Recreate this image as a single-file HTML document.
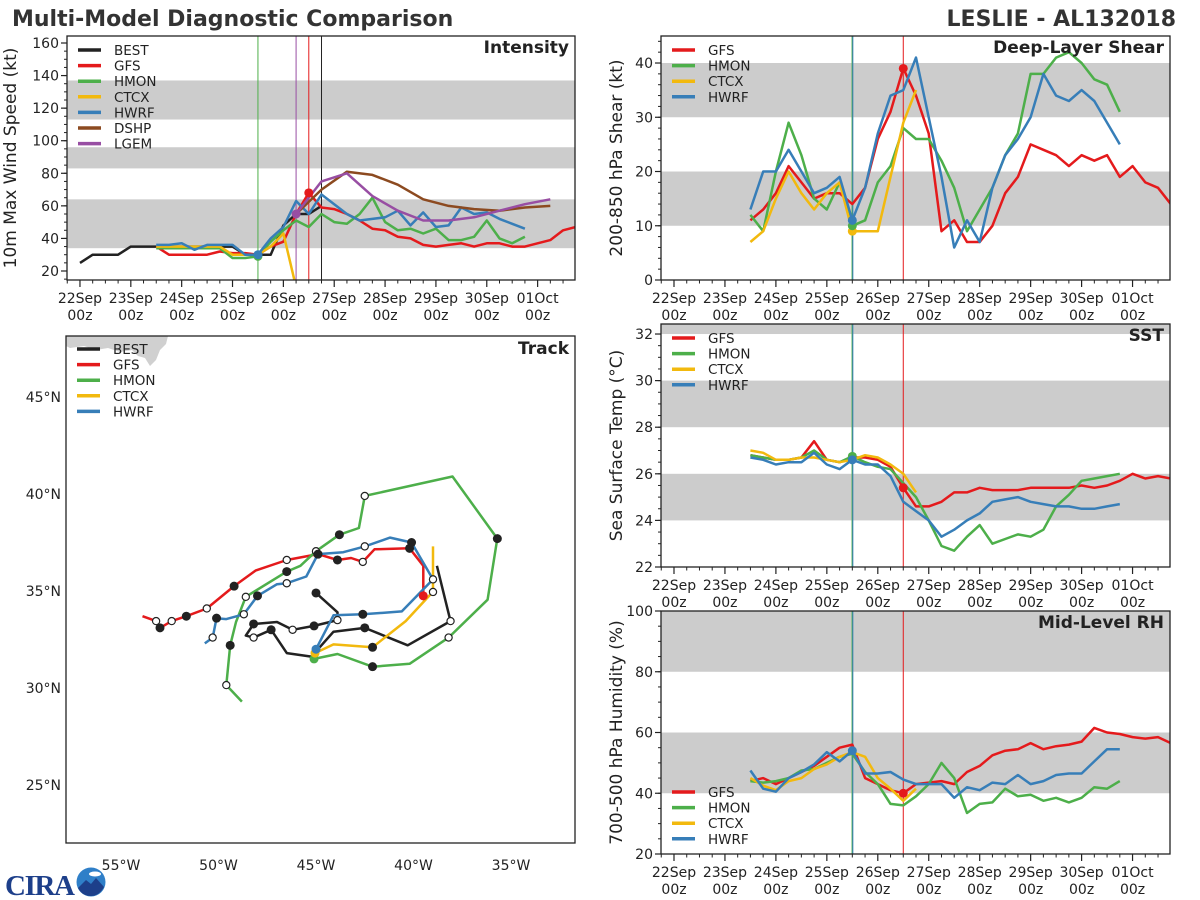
<!DOCTYPE html>
<html><head><meta charset="utf-8"><title>Multi-Model Diagnostic Comparison</title>
<style>
html,body{margin:0;padding:0;background:#fff;}
svg{display:block;font-family:"DejaVu Sans","Liberation Sans",sans-serif;}
</style></head>
<body>
<svg id="chart" width="1200" height="900" viewBox="0 0 1200 900" xmlns="http://www.w3.org/2000/svg">
<rect x="0" y="0" width="1200" height="900" fill="#fff"/>
<text x="12" y="26" font-size="22" font-weight="bold" fill="#333">Multi-Model Diagnostic Comparison</text>
<text x="1176" y="26" font-size="22" font-weight="bold" fill="#333" text-anchor="end">LESLIE - AL132018</text>
<g>
<text x="5" y="895" font-size="29" font-weight="bold" fill="#1d3f8a" font-family="Liberation Serif, serif" textLength="70">CIRA</text>
<circle cx="91" cy="882" r="14.5" fill="#2f7fc8"/>
<path d="M78 888 L86 880 L91 884 L96 878 L104 887 Q99 896 91 896 Q82 896 78 888Z" fill="#1d3f8a"/>
<ellipse cx="95" cy="874" rx="6" ry="2.5" fill="#fff"/>
</g>
</svg>
<script>
// ---------- shared axis data ----------
const dayLabels = ['22Sep','23Sep','24Sep','25Sep','26Sep','27Sep','28Sep','29Sep','30Sep','01Oct'];
// ---------- Intensity data (kt), 6-hourly, start in days from 22Sep00z ----------
const intBestStart = 0;
const intBest = [25,30,30,30,35,35,35,35,35,35,35,35,35,30,30,30,48,55,55,60];
const intGfsStart = 1.5;
const intGfs = [35,30,30,30,30,32,31,31,30,35,38,55,68,59,58,55,51,46,45,41,40,36,35,36,37,35,37,37,35,35,37,39,45,47];
const intHmonStart = 1.5;
const intHmon = [34,34,34,34,34,34,28,28,29,38,45,51,47,55,50,49,55,65,50,45,46,43,46,39,39,41,51,40,37,41];
const intCtcxStart = 1.5;
const intCtcx = [35,35,35,35,35,35,30,30,30,35,43,10];
const intHwrfStart = 1.5;
const intHwrf = [36,36,37,33,36,36,36,30,30,40,47,63,55,67,61,55,51,52,53,57,48,56,47,48,59,55,56,52,49,46];
const intDshpStart = 4.25; // 12-hourly
const intDshp = [55,70,81,79,73,64,60,58,57,59,60];
const intLgemStart = 4.25; // 12-hourly
const intLgem = [55,75,80,66,57,51,51,53,57,61,64];
const intTicks = [20,40,60,80,100,120,140,160];
// ---------- Shear data (kt) ----------
const shrGfs = [11,13,16,21,18,15,16,16,14,17,26,31,39,34,27,9,11,7,7,10,16,19,25,24,23,21,23,22,23,19,21,18,17,14];
const shrHmon = [12,9,20,29,23,15,13,18,10,11,18,21,28,26,26,22,17,9,13,17,23,27,38,38,41,42,40,37,36,31];
const shrCtcx = [7,9,15,20,16,13,16,18,9,9,9,19,29,35];
const shrHwrf = [13,20,20,24,20,16,17,19,11,17,27,34,35,41,30,19,6,11,7,17,23,26,30,38,34,33,35,33,29,25];
const shrTicks = [0,10,20,30,40];
// ---------- SST data (deg C) ----------
const sstGfs = [26.8,26.7,26.6,26.6,26.7,27.4,26.6,26.5,26.7,26.7,26.6,26.3,25.4,24.6,24.6,24.8,25.2,25.2,25.4,25.3,25.3,25.3,25.4,25.4,25.4,25.4,25.5,25.4,25.5,25.7,26.0,25.8,25.9,25.8,26.3];
const sstHmon = [26.8,26.7,26.6,26.6,26.7,27.0,26.6,26.5,26.75,26.5,26.3,26.2,25.6,25.0,24.0,22.9,22.7,23.3,23.8,23.0,23.2,23.4,23.3,23.6,24.6,25.1,25.7,25.8,25.9,26.0];
const sstCtcx = [27.0,26.9,26.6,26.6,26.7,26.7,26.6,26.5,26.6,26.8,26.7,26.4,26.0,25.2];
const sstHwrf = [26.7,26.6,26.4,26.5,26.5,26.9,26.4,26.2,26.6,26.4,26.4,25.9,24.8,24.4,24.0,23.3,23.6,24.0,24.3,24.8,24.9,25.0,24.8,24.7,24.6,24.6,24.5,24.5,24.6,24.7];
const sstTicks = [22,24,26,28,30,32];
// ---------- RH data (%) ----------
const rhGfs = [44,45,43,45,47,49,52,55,56,45,43,41,40,43,43.5,44,43,47,49,52.5,54,54.5,56.5,54.5,55.5,56,57,61.5,60,59.5,58.5,58,58.5,56.5];
const rhHmon = [44,43.5,44,45,47.5,48,50,52,53,47,43,36.5,36,39,43,50,45,33.5,36.5,37,41.5,39,39.5,37.5,38.5,37,38.5,42,41.5,44];
const rhCtcx = [45,42.5,41,44,45,48,49.5,52,53.5,52,45,41.5,37.5,41.5];
const rhHwrf = [47.5,41.5,40.5,45,47,49.5,53.5,50.5,54,46.5,46.5,47,44.5,43,43,43,38.5,42,41,43.5,43,46,43,44,46,46.5,46.5,50.5,54.5,54.5];
const rhTicks = [20,40,60,80,100];
// ---------- Track data: lon (deg, negative=W), lat, marker (f=filled, o=open, n=none, i=init) ----------
const trkBestLon = [-38.8,-38.1,-40.3,-42.5,-44.1,-44.9,-45.1,-46.5,-47.3,-48.2,-48.6,-48.2,-47.0,-46.2,-45.1,-43.9,-43.9,-45.0];
const trkBestLat = [36.3,33.45,32.2,33.1,32.9,32.0,31.6,31.8,33.0,32.6,32.7,33.3,33.4,33.0,33.2,33.5,33.9,34.9];
const trkBestMk  = ['n','o','n','f','n','n','n','n','f','o','n','f','n','o','f','o','n','f'];
const trkGfsLon = [-39.5,-39.5,-40.2,-42.0,-42.6,-43.2,-43.9,-44.9,-46.5,-48.1,-49.2,-50.6,-51.65,-52.4,-53.0,-53.2,-53.9];
const trkGfsLat = [34.75,36.3,37.2,37.15,36.5,36.7,36.6,36.9,36.6,36.05,35.25,34.1,33.7,33.45,33.1,33.45,33.7];
const trkGfsMk  = ['i','n','f','n','o','n','f','f','o','n','f','o','f','o','f','o','n'];
const trkHmonLon = [-45.1,-43.9,-42.1,-40.2,-38.2,-36.2,-35.7,-38.0,-42.5,-42.8,-43.8,-45.0,-45.8,-46.5,-48.6,-49.1,-49.4,-49.6,-48.8];
const trkHmonLat = [31.5,31.75,31.1,31.25,32.6,34.55,37.7,40.9,39.9,38.25,37.9,37.05,36.3,36.0,34.7,33.4,32.2,30.15,29.3];
const trkHmonMk  = ['i','n','f','n','o','n','f','n','o','n','f','o','n','f','o','n','f','o','n'];
const trkCtcxLon = [-45.05,-44.1,-42.1,-40.4,-39.2,-39.0,-39.0];
const trkCtcxLat = [31.8,32.25,32.1,33.45,34.75,34.95,37.3];
const trkCtcxMk  = ['i','n','f','n','n','o','n'];
const trkHwrfLon = [-45.0,-44.1,-42.6,-40.6,-39.0,-40.1,-41.2,-42.5,-43.6,-44.9,-45.5,-46.5,-47.0,-48.0,-48.7,-49.6,-50.1,-50.3,-50.7];
const trkHwrfLat = [32.0,33.75,33.8,33.95,35.6,37.5,37.75,37.3,37.0,36.9,35.75,35.4,35.35,34.75,33.8,33.55,33.6,32.6,32.3];
const trkHwrfMk  = ['i','n','f','n','o','f','n','o','n','f','n','o','n','f','o','n','f','o','n'];
const lonTicks = [-55,-50,-45,-40,-35];
const latTicks = [25,30,35,40,45];

// ---------- drawing ----------
const NS = 'http://www.w3.org/2000/svg';
const svg = document.getElementById('chart');
const C = {BEST:'#222222',GFS:'#e41a1c',HMON:'#4daf4a',CTCX:'#f2b90e',HWRF:'#377eb8',DSHP:'#8c4a20',LGEM:'#984ea3'};
function el(tag, attrs, parent){
  const e = document.createElementNS(NS, tag);
  for (const k in attrs) e.setAttribute(k, attrs[k]);
  (parent || svg).appendChild(e);
  return e;
}
const T0 = -0.255, T1 = 9.735;

function timePanel(p){
  const g = el('g', {});
  
  
  const X = t => p.x0 + (t - T0) / (T1 - T0) * (p.x1 - p.x0);
  const Y = v => p.y1 - (v - p.vmin) / (p.vmax - p.vmin) * (p.y1 - p.y0);
  const cid = 'clip-' + p.name;
  const cp = el('clipPath', {id: cid}, g);
  el('rect', {x:p.x0, y:p.y0, width:p.x1-p.x0, height:p.y1-p.y0}, cp);
  const inner = el('g', {'clip-path':'url(#'+cid+')'}, g);
  p.bands.forEach(b => {
    const r = el('rect', {x:p.x0, y:Y(b[1]), width:p.x1-p.x0, height:Y(b[0])-Y(b[1]), fill:'#cccccc'}, inner);
    
    
  });
  p.vlines.forEach(v => {
    const l = el('line', {x1:X(v[0]), x2:X(v[0]), y1:p.y0, y2:p.y1, stroke:v[1], 'stroke-width':1}, inner);
    
    
  });
  p.series.forEach(s => {
    const step = s.step || 0.25;
    const pts = s.vals.map((v,i) => X(s.start + i*step).toFixed(1) + ',' + Y(v).toFixed(1)).join(' ');
    const pl = el('polyline', {points:pts, fill:'none', stroke:C[s.model], 'stroke-width':2.5, 'stroke-linejoin':'round'}, inner);
    
    
  });
  p.dots.forEach(d => {
    const s = d[0];
    const i = d[1];
    const c = el('circle', {cx:X(s.start + i*(s.step||0.25)), cy:Y(s.vals[i]), r:4.5, fill:C[s.model]}, inner);
    
    
  });
  const fr = el('rect', {x:p.x0, y:p.y0, width:p.x1-p.x0, height:p.y1-p.y0, fill:'none', stroke:'#222', 'stroke-width':1.3}, g);
  
  
  for (let v = Math.ceil(p.vmin/p.minor)*p.minor; v <= p.vmax; v += p.minor){
    el('line', {x1:p.x0-3, x2:p.x0, y1:Y(v), y2:Y(v), stroke:'#222', 'stroke-width':1}, g);
  }
  p.yticks.forEach(v => {
    el('line', {x1:p.x0-6, x2:p.x0, y1:Y(v), y2:Y(v), stroke:'#222', 'stroke-width':1.2}, g);
    const t = el('text', {x:p.x0-8, y:Y(v)+5, 'font-size':14, 'text-anchor':'end', fill:'#222'}, g);
    t.textContent = v;
    
    
  });
  for (let k = 0; k*0.25 + (-0.25) <= T1; k++){
    const t = -0.25 + k*0.25;
    if (t < T0) continue;
    const maj = Math.abs(t - Math.round(t)) < 1e-6;
    el('line', {x1:X(t), x2:X(t), y1:p.y1, y2:p.y1+(maj?7:3.5), stroke:'#222', 'stroke-width':maj?1.2:1}, g);
  }
  dayLabels.forEach((lab, i) => {
    const t1 = el('text', {x:X(i), y:p.y1+23, 'font-size':14, 'text-anchor':'middle', fill:'#222'}, g);
    t1.textContent = lab;
    
    
    const t2 = el('text', {x:X(i), y:p.y1+40, 'font-size':14, 'text-anchor':'middle', fill:'#222'}, g);
    t2.textContent = '00z';
    
    
  });
  const yl = el('text', {x:0, y:0, 'font-size':17, 'text-anchor':'middle', fill:'#222', transform:'translate('+p.ylx+','+((p.y0+p.y1)/2)+') rotate(-90)'}, g);
  yl.textContent = p.ylabel;
  
  
  const ti = el('text', {x:p.x1-6, y:p.y0+17, 'font-size':17, 'font-weight':'bold', 'text-anchor':'end', fill:'#222'}, g);
  ti.textContent = p.title;
  
  
  legend(g, p.legendModels, p.x0+11, p.legY);
}
function legend(g, models, x, y){
  models.forEach((m, i) => {
    const yy = y + i*15.6;
    const ln = el('line', {x1:x, x2:x+23, y1:yy, y2:yy, stroke:C[m], 'stroke-width':3.5}, g);
    
    
    const t = el('text', {x:x+36, y:yy+5, 'font-size':13.5, fill:'#222'}, g);
    t.textContent = m;
    
    
  });
}
const S = (model, start, vals, step) => ({model, start, vals, step});

(function(){
  const best = S('BEST', intBestStart, intBest), gfs = S('GFS', intGfsStart, intGfs), hmon = S('HMON', intHmonStart, intHmon),
        ctcx = S('CTCX', intCtcxStart, intCtcx), hwrf = S('HWRF', intHwrfStart, intHwrf),
        dshp = S('DSHP', intDshpStart, intDshp, 0.5), lgem = S('LGEM', intLgemStart, intLgem, 0.5);
  timePanel({name:'intensity', x0:67, x1:575, y0:36, y1:280, vmin:14.47, vmax:164.3, minor:5, yticks:intTicks,
    bands:[[34,64],[83,96],[113,137]], vlines:[[3.5,C.HMON],[4.25,C.LGEM],[4.5,C.GFS],[4.75,C.BEST]],
    series:[best,gfs,hmon,ctcx,hwrf,dshp,lgem], dots:[[hmon,8],[hwrf,8],[gfs,12],[lgem,0]],
    title:'Intensity', ylabel:'10m Max Wind Speed (kt)', ylx:16, legendModels:['BEST','GFS','HMON','CTCX','HWRF','DSHP','LGEM'], legY:50});
})();
(function(){
  const gfs = S('GFS',1.5,shrGfs), hmon = S('HMON',1.5,shrHmon), ctcx = S('CTCX',1.5,shrCtcx), hwrf = S('HWRF',1.5,shrHwrf);
  timePanel({name:'shear', x0:661, x1:1170, y0:36, y1:280, vmin:0, vmax:44.98, minor:2, yticks:shrTicks,
    bands:[[10,20],[30,40]], vlines:[[3.495,C.HMON],[3.51,C.HWRF],[4.5,C.GFS]],
    series:[gfs,hmon,ctcx,hwrf], dots:[[ctcx,8],[hmon,8],[hwrf,8],[gfs,12]],
    title:'Deep-Layer Shear', ylabel:'200-850 hPa Shear (kt)', ylx:622, legendModels:['GFS','HMON','CTCX','HWRF'], legY:50});
})();
(function(){
  const gfs = S('GFS',1.5,sstGfs), hmon = S('HMON',1.5,sstHmon), ctcx = S('CTCX',1.5,sstCtcx), hwrf = S('HWRF',1.5,sstHwrf);
  timePanel({name:'sst', x0:661, x1:1170, y0:324, y1:567, vmin:22, vmax:32.43, minor:0.5, yticks:sstTicks,
    bands:[[24,26],[28,30],[32,34]], vlines:[[3.495,C.HMON],[3.51,C.HWRF],[4.5,C.GFS]],
    series:[gfs,hmon,ctcx,hwrf], dots:[[hmon,8],[hwrf,8],[gfs,12]],
    title:'SST', ylabel:'Sea Surface Temp (°C)', ylx:622, legendModels:['GFS','HMON','CTCX','HWRF'], legY:338});
})();
(function(){
  const gfs = S('GFS',1.5,rhGfs), hmon = S('HMON',1.5,rhHmon), ctcx = S('CTCX',1.5,rhCtcx), hwrf = S('HWRF',1.5,rhHwrf);
  timePanel({name:'rh', x0:661, x1:1170, y0:611, y1:854, vmin:20, vmax:100, minor:5, yticks:rhTicks,
    bands:[[40,60],[80,100]], vlines:[[3.495,C.HMON],[3.51,C.HWRF],[4.5,C.GFS]],
    series:[gfs,hmon,ctcx,hwrf], dots:[[hwrf,8],[gfs,12]],
    title:'Mid-Level RH', ylabel:'700-500 hPa Humidity (%)', ylx:622, legendModels:['GFS','HMON','CTCX','HWRF'], legY:792});
})();
(function(){
  const p = {x0:66, x1:575, y0:336, y1:843};
  const X = lon => 316 + (lon + 45) * 19.5;
  const Y = lat => 688 - (lat - 30) * 19.4;
  const g = el('g', {});
  
  
  const cp = el('clipPath', {id:'clip-track'}, g);
  el('rect', {x:p.x0, y:p.y0, width:p.x1-p.x0, height:p.y1-p.y0}, cp);
  const inner = el('g', {'clip-path':'url(#clip-track)'}, g);
  const land = el('path', {d:'M66 336 L168 336 L166 344 L160 350 L156 360 L150 366 L145 358 L138 356 L132 350 L120 352 L108 348 L96 350 L84 346 L70 348 L66 346 Z', fill:'#d0d0d0'}, inner);
  
  
  const tracks = [['BEST',trkBestLon,trkBestLat,trkBestMk],['GFS',trkGfsLon,trkGfsLat,trkGfsMk],['HMON',trkHmonLon,trkHmonLat,trkHmonMk],
                  ['CTCX',trkCtcxLon,trkCtcxLat,trkCtcxMk],['HWRF',trkHwrfLon,trkHwrfLat,trkHwrfMk]];
  tracks.forEach(tr => {
    const pts = tr[1].map((lon,i) => X(lon).toFixed(1)+','+Y(tr[2][i]).toFixed(1)).join(' ');
    const pl = el('polyline', {points:pts, fill:'none', stroke:C[tr[0]], 'stroke-width':2.5, 'stroke-linejoin':'round'}, inner);
    
    
  });
  tracks.forEach(tr => {
    tr[3].forEach((m,i) => {
      if (m === 'n') return;
      const attrs = m === 'i' ? {r:4.5, fill:C[tr[0]], stroke:'none'} :
                    m === 'f' ? {r:4.5, fill:'#222', stroke:'none'} : {r:3.6, fill:'#fff', stroke:'#222', 'stroke-width':1.2};
      attrs.cx = X(tr[1][i]); attrs.cy = Y(tr[2][i]);
      const c = el('circle', attrs, inner);
      
      
    });
  });
  const fr = el('rect', {x:p.x0, y:p.y0, width:p.x1-p.x0, height:p.y1-p.y0, fill:'none', stroke:'#222', 'stroke-width':1.3}, g);
  
  
  lonTicks.forEach(lon => {
    const t = el('text', {x:X(lon), y:p.y1+27, 'font-size':14, 'text-anchor':'middle', fill:'#222'}, g);
    t.textContent = Math.abs(lon) + '°W';
    
    
  });
  latTicks.forEach(lat => {
    const t = el('text', {x:p.x0-5, y:Y(lat)+5, 'font-size':14, 'text-anchor':'end', fill:'#222'}, g);
    t.textContent = lat + '°N';
    
    
  });
  const ti = el('text', {x:p.x1-6, y:p.y0+18, 'font-size':17, 'font-weight':'bold', 'text-anchor':'end', fill:'#222'}, g);
  ti.textContent = 'Track';
  
  
  legend(g, ['BEST','GFS','HMON','CTCX','HWRF'], 77, 349);
})();
</script>
</body></html>
